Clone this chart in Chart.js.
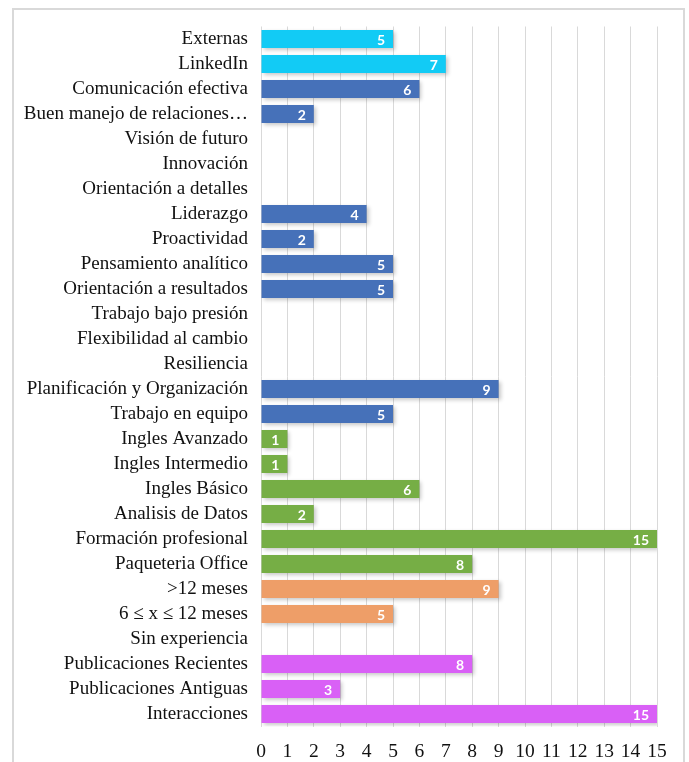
<!DOCTYPE html>
<html>
<head>
<meta charset="utf-8">
<title>Grafica</title>
<script src="https://cdn.jsdelivr.net/npm/chart.js@4.4.1/dist/chart.umd.min.js"></script>
<style>
  body { margin: 0; background: #fff; }
  #marco {
    position: absolute; left: 12px; top: 8px; width: 673px; height: 800px;
    box-sizing: border-box; border: 2px solid #d9d9d9;
  }
  #grafica { position: absolute; left: 0; top: 0; }
</style>
</head>
<body>
<div id="marco"></div>
<canvas id="grafica" width="689" height="762"></canvas>
<script>
// categorias de arriba a abajo
var categorias = [
  "Externas", "LinkedIn", "Comunicación efectiva", "Buen manejo de relaciones…",
  "Visión de futuro", "Innovación", "Orientación a detalles", "Liderazgo",
  "Proactividad", "Pensamiento analítico", "Orientación a resultados",
  "Trabajo bajo presión", "Flexibilidad al cambio", "Resiliencia",
  "Planificación y Organización", "Trabajo en equipo", "Ingles Avanzado",
  "Ingles Intermedio", "Ingles Básico", "Analisis de Datos",
  "Formación profesional", "Paqueteria Office", ">12 meses",
  "6 ≤ x ≤ 12 meses", "Sin experiencia", "Publicaciones Recientes",
  "Publicaciones Antiguas", "Interacciones"
];
var valores = [5, 7, 6, 2, 0, 0, 0, 4, 2, 5, 5, 0, 0, 0, 9, 5, 1, 1, 6, 2, 15, 8, 9, 5, 0, 8, 3, 15];
// grupo de cada categoria
var grupos = [
  "fuentes", "fuentes",
  "competencias", "competencias", "competencias", "competencias", "competencias",
  "competencias", "competencias", "competencias", "competencias", "competencias",
  "competencias", "competencias", "competencias", "competencias",
  "conocimientos", "conocimientos", "conocimientos", "conocimientos", "conocimientos", "conocimientos",
  "experiencia", "experiencia", "experiencia",
  "redes", "redes", "redes"
];
var ejeX = [0, 1, 2, 3, 4, 5, 6, 7, 8, 9, 10, 11, 12, 13, 14, 15];

var colorGrupo = {
  fuentes: "#12CBF5",
  competencias: "#4671B9",
  conocimientos: "#76AE45",
  experiencia: "#EE9E68",
  redes: "#D960F6"
};
var colores = grupos.map(function (g) { return colorGrupo[g]; });

//! sombra de las barras + numeros blancos
var etiquetas = {
  id: "etiquetas",
  beforeDatasetsDraw: function (chart) {
    var ctx = chart.ctx;
    ctx.save();
    ctx.shadowColor = "rgba(0,0,0,0.22)";
    ctx.shadowBlur = 4;
    ctx.shadowOffsetX = 2;
    ctx.shadowOffsetY = 2;
  },
  afterDatasetsDraw: function (chart) {
    var ctx = chart.ctx;
    ctx.restore();
    var meta = chart.getDatasetMeta(0);
    ctx.save();
    ctx.fillStyle = "#fff";
    ctx.font = "bold 14px Lato";
    ctx.textAlign = "right";
    ctx.textBaseline = "middle";
    meta.data.forEach(function (barra, i) {
      var v = chart.data.datasets[0].data[i];
      if (v > 0) ctx.fillText(String(v), barra.x - 8, barra.y + 1);
    });
    ctx.restore();
  }
};

var config = {
  type: "bar",
  data: {
    labels: categorias,
    datasets: [{
      data: valores,
      backgroundColor: colores,
      borderWidth: 0,
      barPercentage: 0.72,
      categoryPercentage: 1
    }]
  },
  options: {
    indexAxis: "y",
    responsive: false,
    animation: false,
    devicePixelRatio: 1,
    layout: { padding: { top: 26.5, right: 32, bottom: 0, left: 0 } },
    plugins: {
      legend: { display: false },
      tooltip: { enabled: false }
    },
    scales: {
      x: {
        min: ejeX[0],
        max: ejeX[ejeX.length - 1],
        afterBuildTicks: function (scale) {
          scale.ticks = ejeX.map(function (v) { return { value: v }; });
        },
        afterFit: function (scale) { scale.height = 35.5; },
        grid: { color: "#d9d9d9", lineWidth: 1, drawTicks: false },
        border: { display: false },
        ticks: {
          padding: 14,
          color: "#111",
          font: { family: "Liberation Serif", size: 19.5 }
        }
      },
      y: {
        afterFit: function (scale) { scale.width = 261; },
        grid: { display: false, drawTicks: false },
        border: { display: false },
        ticks: {
          autoSkip: false,
          padding: 13,
          color: "#111",
          font: { family: "Liberation Serif", size: 19 }
        }
      }
    }
  },
  plugins: [etiquetas]
};

new Chart(document.getElementById("grafica"), config);
</script>
</body>
</html>
